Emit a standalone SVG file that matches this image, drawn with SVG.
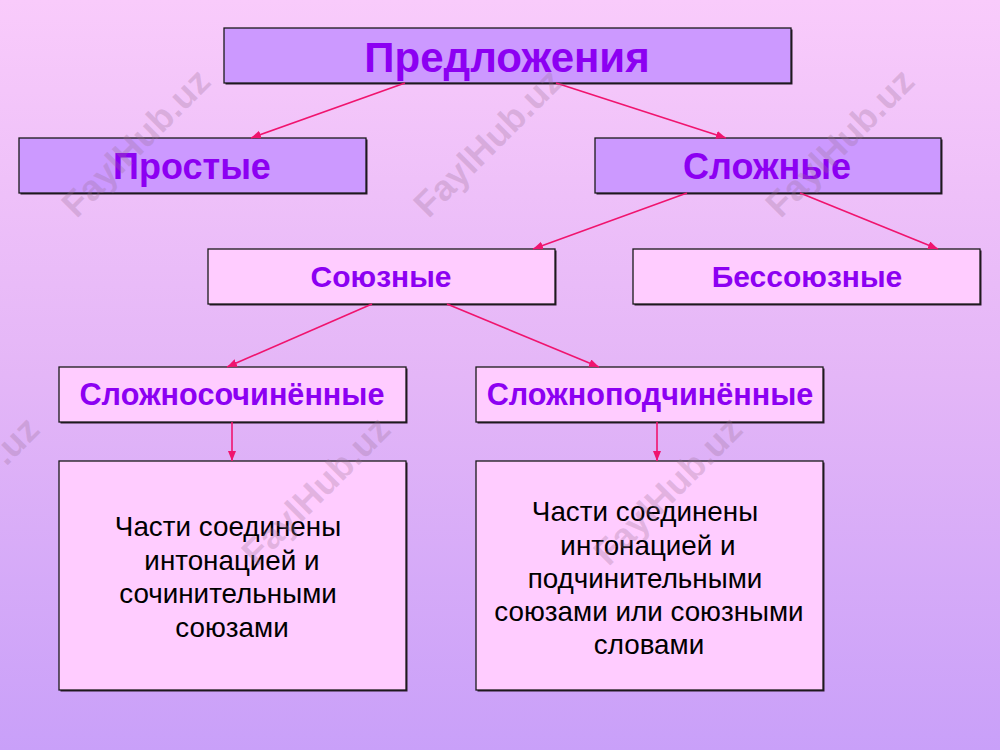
<svg xmlns="http://www.w3.org/2000/svg" width="1000" height="750" viewBox="0 0 1000 750">
  <defs>
    <linearGradient id="bg" x1="0" y1="0" x2="0" y2="1">
      <stop offset="0" stop-color="#F9CBFB"/>
      <stop offset="0.5" stop-color="#E4B6F7"/>
      <stop offset="1" stop-color="#C9A0F9"/>
    </linearGradient>
    <marker id="arr" markerUnits="userSpaceOnUse" markerWidth="12" markerHeight="10" refX="10" refY="4" orient="auto">
      <path d="M0,0 L10,4 L0,8 Z" fill="#F0146E"/>
    </marker>
    <style>
      .dark { fill: #CC99FF; stroke: #1a1a1a; stroke-width: 1.3; }
      .light { fill: #FFCCFF; stroke: #1a1a1a; stroke-width: 1.3; }
      .shadow { fill: #2a1a2a; }
      .h1 { font-family: "Liberation Sans", Arial, sans-serif; font-weight: bold; fill: #8C00F2; text-anchor: middle; }
      .body { font-family: "Liberation Sans", Arial, sans-serif; font-size: 27.8px; fill: #000; text-anchor: middle; }
      .wm { font-family: "Liberation Sans", Arial, sans-serif; font-weight: bold; font-size: 36px; fill: #9A7094; fill-opacity: 0.28; }
      .conn { stroke: #F0146E; stroke-width: 1.6; fill: none; }
    </style>
  </defs>

  <rect x="0" y="0" width="1000" height="750" fill="url(#bg)"/>

  <g id="node-predlozheniya">
    <rect class="shadow" x="225.5" y="29.5" width="567" height="55"/>
    <rect class="dark" x="224" y="28" width="567" height="55"/>
    <text class="h1" x="507" y="72" font-size="42">Предложения</text>
  </g>
  <g id="node-prostye">
    <rect class="shadow" x="20.5" y="139.5" width="347" height="55"/>
    <rect class="dark" x="19" y="138" width="347" height="55"/>
    <text class="h1" x="192" y="179" font-size="36">Простые</text>
  </g>
  <g id="node-slozhnye">
    <rect class="shadow" x="596.5" y="139.5" width="346" height="55"/>
    <rect class="dark" x="595" y="138" width="346" height="55"/>
    <text class="h1" x="767" y="179" font-size="36">Сложные</text>
  </g>
  <g id="node-soyuznye">
    <rect class="shadow" x="209.5" y="250.5" width="347" height="55"/>
    <rect class="light" x="208" y="249" width="347" height="55"/>
    <text class="h1" x="381" y="287" font-size="30">Союзные</text>
  </g>
  <g id="node-bessoyuznye">
    <rect class="shadow" x="634.5" y="250.5" width="347" height="55"/>
    <rect class="light" x="633" y="249" width="347" height="55"/>
    <text class="h1" x="807" y="287" font-size="30">Бессоюзные</text>
  </g>
  <g id="node-slozhnosochinennye">
    <rect class="shadow" x="60.5" y="368.5" width="347" height="55"/>
    <rect class="light" x="59" y="367" width="347" height="55"/>
    <text class="h1" x="232" y="405" font-size="30.6">Сложносочинённые</text>
  </g>
  <g id="node-slozhnopodchinennye">
    <rect class="shadow" x="477.5" y="368.5" width="347" height="55"/>
    <rect class="light" x="476" y="367" width="347" height="55"/>
    <text class="h1" x="650" y="405" font-size="30.6">Сложноподчинённые</text>
  </g>
  <g id="node-desc-sochin">
    <rect class="shadow" x="60.5" y="462.5" width="347" height="229"/>
    <rect class="light" x="59" y="461" width="347" height="229"/>
    <text class="body" x="228" y="536">Части соединены</text>
    <text class="body" x="232" y="570">интонацией и</text>
    <text class="body" x="228" y="603">сочинительными</text>
    <text class="body" x="232" y="637">союзами</text>
  </g>
  <g id="node-desc-podchin">
    <rect class="shadow" x="477.5" y="462.5" width="347" height="229"/>
    <rect class="light" x="476" y="461" width="347" height="229"/>
    <text class="body" x="645" y="521">Части соединены</text>
    <text class="body" x="648" y="555">интонацией и</text>
    <text class="body" x="645" y="588">подчинительными</text>
    <text class="body" x="649" y="621">союзами или союзными</text>
    <text class="body" x="649" y="654">словами</text>
  </g>

  <g id="connectors">
    <line class="conn" x1="405" y1="83" x2="251" y2="138" marker-end="url(#arr)"/>
    <line class="conn" x1="556" y1="83" x2="726" y2="138" marker-end="url(#arr)"/>
    <line class="conn" x1="687" y1="193" x2="533" y2="249" marker-end="url(#arr)"/>
    <line class="conn" x1="800" y1="193" x2="938" y2="249" marker-end="url(#arr)"/>
    <line class="conn" x1="372" y1="304" x2="227" y2="367" marker-end="url(#arr)"/>
    <line class="conn" x1="447" y1="304" x2="599" y2="367" marker-end="url(#arr)"/>
    <line class="conn" x1="232" y1="422" x2="232" y2="461" marker-end="url(#arr)"/>
    <line class="conn" x1="657" y1="422" x2="657" y2="461" marker-end="url(#arr)"/>
  </g>

  <g id="watermarks">
    <text class="wm" text-anchor="middle" transform="translate(136,143) rotate(-45)" y="12">FaylHub.uz</text>
    <text class="wm" text-anchor="middle" transform="translate(488,143) rotate(-45)" y="12">FaylHub.uz</text>
    <text class="wm" text-anchor="middle" transform="translate(840,143) rotate(-45)" y="12">FaylHub.uz</text>
    <text class="wm" text-anchor="end" transform="translate(-35,491) rotate(-45)" x="96" y="12">.uz</text>
    <text class="wm" text-anchor="middle" transform="translate(316,491) rotate(-45)" y="12">FaylHub.uz</text>
    <text class="wm" text-anchor="middle" transform="translate(668,491) rotate(-45)" y="12">FaylHub.uz</text>
  </g>
</svg>
